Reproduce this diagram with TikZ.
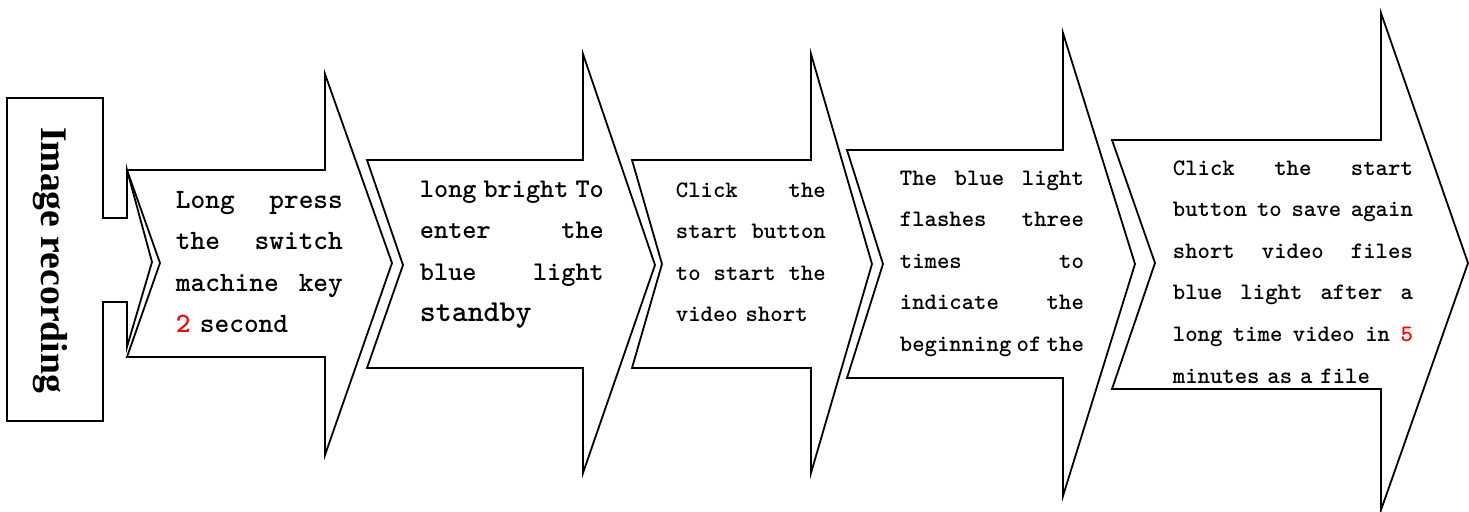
\documentclass[tikz,border=0pt]{standalone}
\usepackage{fontspec}
\setmainfont{Liberation Serif}
\definecolor{KeyRed}{HTML}{FF0000}

\begin{document}
\begin{tikzpicture}[x=0.5pt, y=-0.5pt, line width=0.9pt]
    \tikzstyle{stepshape}=[draw, line join=miter]
    \tikzstyle{steptext}=[anchor=base west, inner sep=0pt, align=left]
    \useasboundingbox (0,0) rectangle (1469,511);
    % title box with its small arrow
    \draw[stepshape] (7,98) -- (103,98) -- (103,218) -- (127,218) -- (127,170) -- (152,262) -- (127,347) -- (127,302) -- (103,302) -- (103,421) -- (7,421) -- cycle;
    \node[rotate=-90, font=\fontsize{18.8}{20}\selectfont\bfseries] (title) at (50,260) {Image recording};
    % step arrows
    \draw[stepshape] (127,170) -- (325,170) -- (325,74) -- (392,263) -- (325,455) -- (325,357) -- (127,357) -- (160,263) -- cycle;
    \draw[stepshape] (367,160) -- (583,160) -- (583,54) -- (655,265) -- (583,473) -- (583,368) -- (367,368) -- (403,265) -- cycle;
    \draw[stepshape] (632,160) -- (811,160) -- (811,54) -- (872,264) -- (811,473) -- (811,368) -- (632,368) -- (662,264) -- cycle;
    \draw[stepshape] (847,150) -- (1063,150) -- (1063,33) -- (1135,264) -- (1063,496) -- (1063,378) -- (847,378) -- (883,264) -- cycle;
    \draw[stepshape] (1112,140) -- (1381,140) -- (1381,13) -- (1468,263) -- (1381,510) -- (1381,389) -- (1112,389) -- (1155,263) -- cycle;
    % texts
    \node[steptext, text width=83.5pt, font=\ttfamily\bfseries\fontsize{14}{20.75}\selectfont] (press) at (175,208) {Long\hfill press\\the\hfill switch\\machine\hfill key\\\textcolor{KeyRed}{2} second};
    \node[steptext, text width=92pt, font=\ttfamily\bfseries\fontsize{13.5}{20.75}\selectfont] (standby) at (419,197) {long\hfill bright\hfill To\\enter\hfill the\\blue\hfill light\\{\fontsize{15.2}{20.75}\selectfont standby}};
    \node[steptext, text width=75pt, font=\ttfamily\bfseries\fontsize{11.8}{20.8}\selectfont] (start) at (675,197) {Click\hfill the\\start\hfill button\\to\hfill start\hfill the\\video short};
    \node[steptext, text width=92pt, font=\ttfamily\bfseries\fontsize{11.8}{20.8}\selectfont] (flash) at (899,185) {The\hfill blue\hfill light\\flashes\hfill three\\times\hfill to\\indicate\hfill the\\beginning\hfill of\hfill the};
    \node[steptext, text width=120pt, font=\ttfamily\bfseries\fontsize{11.8}{20.8}\selectfont] (save) at (1172,175) {Click\hfill the\hfill start\\button\hfill to\hfill save\hfill again\\short\hfill video\hfill files\\blue\hfill light\hfill after\hfill a\\long\hfill time\hfill video\hfill in\hfill \textcolor{KeyRed}{5}\\minutes as a file};
\end{tikzpicture}
\end{document}
